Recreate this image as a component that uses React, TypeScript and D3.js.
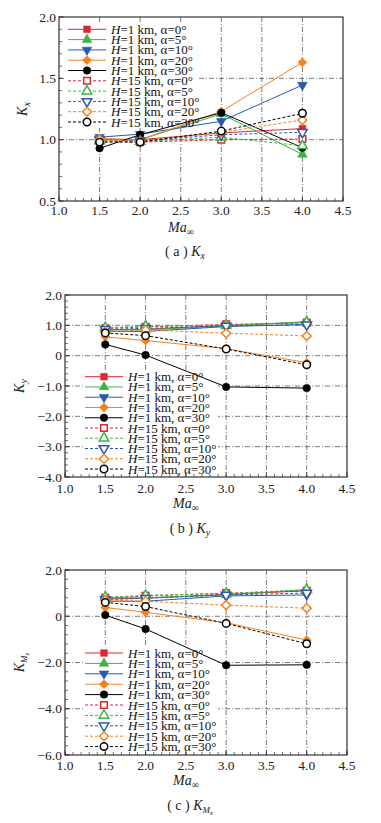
import React from "react";
import * as d3 from "d3";

const MA = [1.5, 2.0, 3.0, 4.0];
const ALPHAS = [0, 5, 10, 20, 30];
const X_TICKS = [1.0, 1.5, 2.0, 2.5, 3.0, 3.5, 4.0, 4.5];
const KX_TICKS = [0.5, 1.0, 1.5, 2.0];
const KY_TICKS = [-4, -3, -2, -1, 0, 1, 2];
const KM_TICKS = [-6, -4, -2, 0, 2];

// rows: alpha = 0,5,10,20,30 ; columns: Ma = 1.5,2,3,4
const KX_H1 = [
  [1.0, 1.0, 1.055, 1.09],
  [1.0, 1.0, 1.21, 0.88],
  [1.02, 1.045, 1.15, 1.445],
  [1.01, 1.0, 1.23, 1.63],
  [0.93, 1.04, 1.22, 0.935],
];
const KX_H15 = [
  [0.99, 0.98, 1.0, 1.005],
  [0.99, 0.985, 1.02, 0.95],
  [1.0, 0.99, 1.04, 1.06],
  [1.0, 0.985, 1.06, 1.16],
  [0.98, 0.98, 1.07, 1.215],
];
const KY_H1 = [
  [0.85, 0.87, 1.0, 1.1],
  [0.85, 0.85, 0.98, 1.12],
  [0.8, 0.8, 0.96, 1.03],
  [0.62, 0.5, 0.23, -0.23],
  [0.37, 0.02, -1.03, -1.07],
];
const KY_H15 = [
  [0.9, 0.95, 1.03, 1.08],
  [0.92, 0.97, 1.0, 1.1],
  [0.87, 0.9, 0.98, 1.02],
  [0.78, 0.85, 0.74, 0.65],
  [0.75, 0.66, 0.22, -0.3],
];
const KM_H1 = [
  [0.75, 0.78, 0.95, 1.1],
  [0.8, 0.8, 0.92, 1.15],
  [0.65, 0.65, 0.88, 0.92],
  [0.38, 0.17, -0.28, -1.03],
  [0.05, -0.55, -2.12, -2.1],
];
const KM_H15 = [
  [0.8, 0.88, 1.0, 1.1],
  [0.82, 0.9, 0.98, 1.15],
  [0.72, 0.78, 0.92, 1.0],
  [0.7, 0.65, 0.48, 0.35],
  [0.6, 0.42, -0.31, -1.19],
];

const COLORS = ["#e0262f", "#3fb34a", "#2b59b0", "#f7801f", "#000000"];
const SHAPES = ["square", "triUp", "triDown", "diamond", "circle"];
const FONT = "'Liberation Serif', 'Times New Roman', serif";

function markerPath(shape: string): { d: string; rot: number } {
  switch (shape) {
    case "square":
      return { d: d3.symbol(d3.symbolSquare, 44)()!, rot: 0 };
    case "triUp":
      return { d: d3.symbol(d3.symbolTriangle, 40)()!, rot: 0 };
    case "triDown":
      return { d: d3.symbol(d3.symbolTriangle, 40)()!, rot: 180 };
    case "diamond":
      return { d: d3.symbol(d3.symbolSquare, 40)()!, rot: 45 };
    default:
      return { d: d3.symbol(d3.symbolCircle, 44)()!, rot: 0 };
  }
}

function Marker({ x, y, i, open }: { x: number; y: number; i: number; open: boolean }) {
  const m = markerPath(SHAPES[i]);
  return (
    <path
      d={m.d}
      transform={`translate(${x},${y}) rotate(${m.rot})`}
      fill={open ? "#fff" : COLORS[i]}
      stroke={COLORS[i]}
      strokeWidth={open ? 1.5 : 0.6}
    />
  );
}

function LegendLabel({ h, a }: { h: number; a: number }) {
  return (
    <>
      <tspan fontStyle="italic">H</tspan>
      {`=${h} km, α=${a}°`}
    </>
  );
}

type PanelProps = {
  top: number;
  bottom: number;
  left: number;
  right: number;
  yDomain: [number, number];
  yTicks: number[];
  yMinorStep: number;
  fmt: (v: number) => string;
  h1: number[][];
  h15: number[][];
  yTitle: React.ReactNode;
  yTitleX: number;
  caption: string;
  captionSub: React.ReactNode;
  legX: number;
  legY: number;
  legStep: number;
  legBox: [number, number, number, number];
  labelY: number;
  titleY: number;
  captionY: number;
};

function Panel(p: PanelProps) {
  const x = d3.scaleLinear().domain([1.0, 4.5]).range([p.left, p.right]);
  const y = d3.scaleLinear().domain(p.yDomain).range([p.bottom, p.top]);
  const line = d3
    .line<[number, number]>()
    .x((d) => x(d[0]))
    .y((d) => y(d[1]));
  const xMinor = d3.range(1.0, 4.5001, 0.1);
  const yMinor = d3.range(p.yDomain[0], p.yDomain[1] + 1e-6, p.yMinorStep);
  const series = [
    ...p.h1.map((vals, i) => ({ vals, i, open: false })),
    ...p.h15.map((vals, i) => ({ vals, i, open: true })),
  ];
  const grid = "#5a5a5a";
  const midX = (p.left + p.right) / 2;
  return (
    <g fontFamily={FONT}>
      {/* grid */}
      {X_TICKS.slice(1, -1).map((t) => (
        <line key={"gx" + t} x1={x(t)} x2={x(t)} y1={p.top} y2={p.bottom} stroke={grid} strokeWidth={0.8} strokeDasharray="5,2,1,2" />
      ))}
      {p.yTicks.slice(1, -1).map((t) => (
        <line key={"gy" + t} x1={p.left} x2={p.right} y1={y(t)} y2={y(t)} stroke={grid} strokeWidth={0.8} strokeDasharray="5,2,1,2" />
      ))}
      {/* legend background */}
      <rect x={p.legBox[0]} y={p.legBox[1]} width={p.legBox[2]} height={p.legBox[3]} fill="#fff" />
      {/* data */}
      {series.map((s) => (
        <path
          key={"l" + s.i + s.open}
          d={line(MA.map((m, k) => [m, s.vals[k]]))!}
          fill="none"
          stroke={COLORS[s.i]}
          strokeWidth={s.open ? 1 : 1}
          strokeDasharray={s.open ? "3,2" : undefined}
        />
      ))}
      {series.map((s) =>
        MA.map((m, k) => <Marker key={"m" + s.i + s.open + k} x={x(m)} y={y(s.vals[k])} i={s.i} open={s.open} />)
      )}
      {/* legend */}
      {series.map((s, r) => {
        const ly = p.legY + r * p.legStep;
        return (
          <g key={"leg" + r}>
            <line x1={p.legX} x2={p.legX + 38} y1={ly} y2={ly} stroke={COLORS[s.i]} strokeWidth={1} strokeDasharray={s.open ? "3,2" : undefined} />
            <Marker x={p.legX + 19} y={ly} i={s.i} open={s.open} />
            <text x={p.legX + 43} y={ly + 4.5} fontSize={13} fill="#111">
              <LegendLabel h={s.open ? 15 : 1} a={ALPHAS[s.i]} />
            </text>
          </g>
        );
      })}
      {/* minor ticks */}
      {xMinor.map((t, k) => (
        <line key={"xm" + k} x1={x(t)} x2={x(t)} y1={p.bottom} y2={p.bottom - 3} stroke="#333" strokeWidth={0.7} />
      ))}
      {X_TICKS.map((t) => (
        <line key={"xM" + t} x1={x(t)} x2={x(t)} y1={p.bottom} y2={p.bottom - 5} stroke="#333" strokeWidth={0.8} />
      ))}
      {yMinor.map((t, k) => (
        <line key={"ym" + k} x1={p.left} x2={p.left + 3} y1={y(t)} y2={y(t)} stroke="#333" strokeWidth={0.7} />
      ))}
      {p.yTicks.map((t) => (
        <line key={"yM" + t} x1={p.left} x2={p.left + 5} y1={y(t)} y2={y(t)} stroke="#333" strokeWidth={0.8} />
      ))}
      {/* frame */}
      <rect x={p.left} y={p.top} width={p.right - p.left} height={p.bottom - p.top} fill="none" stroke="#333" strokeWidth={1.2} />
      {/* tick labels */}
      {X_TICKS.map((t) => (
        <text key={"xl" + t} x={x(t)} y={p.labelY} fontSize={13.5} textAnchor="middle" fill="#222">
          {d3.format(".1f")(t)}
        </text>
      ))}
      {p.yTicks.map((t) => (
        <text key={"yl" + t} x={p.left - 3} y={y(t) + 4.5} fontSize={13.5} textAnchor="end" fill="#222">
          {p.fmt(t)}
        </text>
      ))}
      {/* axis titles */}
      <text x={midX - 20} y={p.titleY} fontSize={14} textAnchor="middle" fill="#222">
        <tspan fontStyle="italic">Ma</tspan>
        <tspan fontSize={10} dy={3}>∞</tspan>
      </text>
      <text transform={`translate(${p.yTitleX},${(p.top + p.bottom) / 2}) rotate(-90)`} fontSize={14} textAnchor="middle" fill="#222">
        {p.yTitle}
      </text>
      <text x={midX - 16} y={p.captionY} fontSize={14} textAnchor="middle" fill="#222">
        {p.caption}
        {p.captionSub}
      </text>
    </g>
  );
}

const fmtA = (v: number) => d3.format(".1f")(v);
const fmtB = (v: number) => (v === 0 ? "0" : d3.format(".1f")(v));

export default function App() {
  return (
    <svg width={381} height={823} style={{ position: "absolute", left: 0, top: 0, background: "#fff" }}>
      <rect width={381} height={823} fill="#fff" />
      <Panel
        top={17}
        bottom={201}
        left={59}
        right={343}
        yDomain={[0.5, 2.0]}
        yTicks={KX_TICKS}
        yMinorStep={0.1}
        fmt={fmtA}
        h1={KX_H1}
        h15={KX_H15}
        yTitle={
          <>
            <tspan fontStyle="italic">K</tspan>
            <tspan fontStyle="italic" fontSize={10} dy={3}>x</tspan>
          </>
        }
        yTitleX={27}
        caption="( a )  "
        captionSub={
          <>
            <tspan fontStyle="italic">K</tspan>
            <tspan fontStyle="italic" fontSize={10} dy={3}>x</tspan>
          </>
        }
        legX={68}
        legY={29.3}
        legStep={10.3}
        legBox={[61, 22, 138, 106]}
        labelY={215}
        titleY={232}
        captionY={256}
      />
      <Panel
        top={295}
        bottom={477}
        left={65}
        right={347}
        yDomain={[-4, 2]}
        yTicks={KY_TICKS}
        yMinorStep={0.2}
        fmt={fmtB}
        h1={KY_H1}
        h15={KY_H15}
        yTitle={
          <>
            <tspan fontStyle="italic">K</tspan>
            <tspan fontStyle="italic" fontSize={10} dy={3}>y</tspan>
          </>
        }
        yTitleX={24}
        caption="( b )  "
        captionSub={
          <>
            <tspan fontStyle="italic">K</tspan>
            <tspan fontStyle="italic" fontSize={10} dy={3}>y</tspan>
          </>
        }
        legX={85}
        legY={376.7}
        legStep={10.26}
        legBox={[83, 370, 135, 105]}
        labelY={493}
        titleY={508}
        captionY={533}
      />
      <Panel
        top={570}
        bottom={755}
        left={65}
        right={347}
        yDomain={[-6, 2]}
        yTicks={KM_TICKS}
        yMinorStep={0.4}
        fmt={fmtB}
        h1={KM_H1}
        h15={KM_H15}
        yTitle={
          <>
            <tspan fontStyle="italic">K</tspan>
            <tspan fontStyle="italic" fontSize={9} dy={3}>M</tspan>
            <tspan fontStyle="italic" fontSize={7} dy={2}>z</tspan>
          </>
        }
        yTitleX={24}
        caption="( c )  "
        captionSub={
          <>
            <tspan fontStyle="italic">K</tspan>
            <tspan fontStyle="italic" fontSize={9} dy={3}>M</tspan>
            <tspan fontStyle="italic" fontSize={7} dy={2}>z</tspan>
          </>
        }
        legX={85}
        legY={653}
        legStep={10.4}
        legBox={[83, 646, 135, 106]}
        labelY={770}
        titleY={785}
        captionY={810}
      />
    </svg>
  );
}
